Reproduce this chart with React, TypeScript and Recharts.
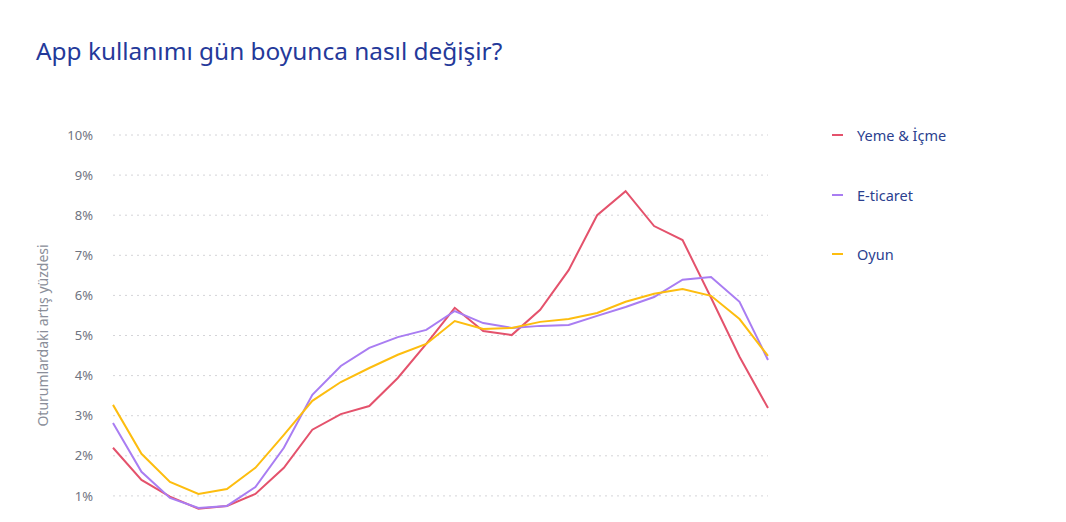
import { LineChart, Line, XAxis, YAxis, CartesianGrid } from 'recharts';

const hours = [
  '00', '01', '02', '03', '04', '05', '06', '07', '08', '09', '10', '11',
  '12', '13', '14', '15', '16', '17', '18', '19', '20', '21', '22', '23',
];

const yemeIcme = [
  2.2, 1.4, 0.98, 0.68, 0.75, 1.05, 1.7, 2.65, 3.04, 3.24, 3.94, 4.79,
  5.69, 5.11, 5.01, 5.64, 6.63, 8.0, 8.6, 7.73, 7.38, 5.94, 4.47, 3.19,
];

const eTicaret = [
  2.82, 1.6, 0.95, 0.7, 0.75, 1.22, 2.2, 3.52, 4.24, 4.69, 4.96, 5.14,
  5.61, 5.31, 5.19, 5.24, 5.26, 5.49, 5.71, 5.96, 6.39, 6.46, 5.84, 4.39,
];

const oyun = [
  3.27, 2.05, 1.35, 1.05, 1.17, 1.7, 2.52, 3.37, 3.84, 4.19, 4.52, 4.79,
  5.36, 5.16, 5.19, 5.34, 5.41, 5.56, 5.84, 6.04, 6.16, 5.99, 5.41, 4.49,
];

const yTicks = [1, 2, 3, 4, 5, 6, 7, 8, 9, 10];

const series = [
  { key: 'yeme', name: 'Yeme & İçme', color: '#e4526c', values: yemeIcme },
  { key: 'eticaret', name: 'E-ticaret', color: '#a97df2', values: eTicaret },
  { key: 'oyun', name: 'Oyun', color: '#fdbd0f', values: oyun },
];

const data = hours.map((hour, i) => {
  const row: Record<string, string | number> = { hour };
  series.forEach((s) => {
    row[s.key] = s.values[i];
  });
  return row;
});

const FONT = '"Noto Sans", sans-serif';

export default function App() {
  return (
    <div
      style={{
        position: 'fixed',
        top: 0,
        left: 0,
        width: 1066,
        height: 522,
        overflow: 'hidden',
        background: '#fff',
      }}
    >
      <div
        style={{
          position: 'absolute',
          left: 36,
          top: 34,
          fontFamily: FONT,
          fontSize: 24.4,
          color: '#24399a',
          whiteSpace: 'nowrap',
        }}
      >
        App kullanımı gün boyunca nasıl değişir?
      </div>

      {/* legend */}
      <div style={{ position: 'absolute', left: 832, top: 125 }}>
        {series.map((s) => (
          <div
            key={s.key}
            style={{ display: 'flex', alignItems: 'center', height: 20, marginBottom: 39.5 }}
          >
            <span
              style={{ display: 'inline-block', width: 11, height: 2, background: s.color, marginRight: 14 }}
            />
            <span style={{ fontFamily: FONT, fontSize: 14.5, color: '#2b3f8f' }}>{s.name}</span>
          </div>
        ))}
      </div>

      <div style={{ position: 'absolute', top: 0, left: 0 }}>
        <LineChart
          width={1066}
          height={600}
          data={data}
          margin={{ top: 135, right: 298, bottom: 64, left: 0 }}
        >
          <CartesianGrid vertical={false} stroke="#d4d4d8" strokeDasharray="2 4" />
          <XAxis dataKey="hour" hide />
          <YAxis
            width={113}
            domain={[0, 10]}
            ticks={yTicks}
            interval={0}
            axisLine={false}
            tickLine={false}
            tickMargin={14}
            tickFormatter={(v) => `${v}%`}
            tick={{ fontFamily: FONT, fontSize: 13, fill: '#70747f' }}
            label={{
              value: 'Oturumlardaki artış yüzdesi',
              angle: -90,
              position: 'center',
              dx: -13,
              style: { fontFamily: FONT, fontSize: 14, fill: '#8a8e99', textAnchor: 'middle' },
            }}
          />
          {series.map((s) => (
            <Line
              key={s.key}
              type="linear"
              dataKey={s.key}
              name={s.name}
              stroke={s.color}
              strokeWidth={2}
              dot={false}
              activeDot={false}
              isAnimationActive={false}
            />
          ))}
        </LineChart>
      </div>
    </div>
  );
}
